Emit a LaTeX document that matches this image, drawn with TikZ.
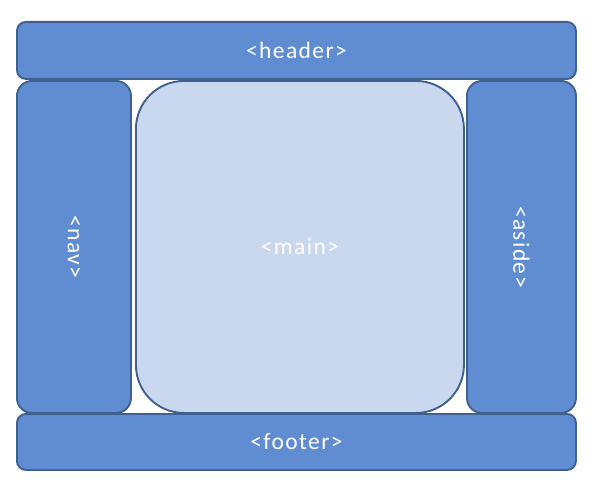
\documentclass[tikz,border=0pt]{standalone}
\usepackage{fontspec}
\setmainfont{Carlito}[LetterSpace=6]
\definecolor{boxblue}{RGB}{96,141,209}
\definecolor{boxedge}{RGB}{64,96,144}
\definecolor{mainfill}{RGB}{201,216,238}
\tikzset{
  blk/.style={draw=boxedge, line width=1.9pt, fill=boxblue, inner sep=0pt, anchor=north west},
  lbl/.style={text=white, inner sep=0pt, font=\fontsize{23.5}{27}\selectfont},
}
\begin{document}
\begin{tikzpicture}[x=1pt,y=-1pt]
\path[use as bounding box] (0,0) rectangle (597,486);
\node[blk, rounded corners=9pt, minimum width=559pt, minimum height=57pt] (header) at (16,21) {};
\node[lbl] (headert) at (header.center) {<header>};
\node[blk, rounded corners=15pt, minimum width=114pt, minimum height=332pt] (nav) at (16,80) {};
\node[lbl, rotate=-90] (navt) at (nav.center) {<nav>};
\node[blk, fill=mainfill, rounded corners=48pt, minimum width=328pt, minimum height=332pt] (main) at (135,80) {};
\node[lbl] (maint) at (main.center) {<main>};
\node[blk, rounded corners=15pt, minimum width=109pt, minimum height=332pt] (aside) at (466,80) {};
\node[lbl, rotate=-90] (asidet) at (aside.center) {<aside>};
\node[blk, rounded corners=9pt, minimum width=559pt, minimum height=56pt] (footer) at (16,413) {};
\node[lbl] (footert) at (footer.center) {<footer>};
\end{tikzpicture}
\end{document}
